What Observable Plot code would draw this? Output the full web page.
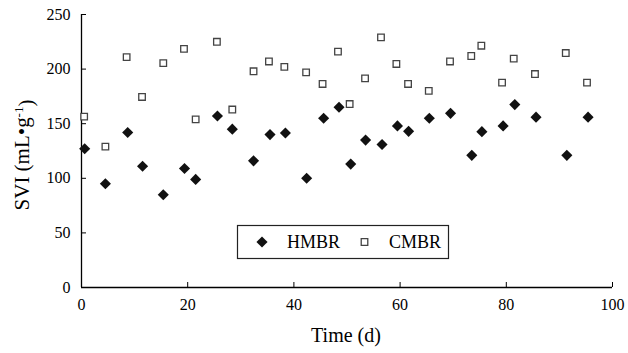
<!DOCTYPE html>
<html><head><meta charset="utf-8">
<script src="https://cdn.jsdelivr.net/npm/d3@7"></script>
<script src="https://cdn.jsdelivr.net/npm/@observablehq/plot@0.6"></script>
<style>body{margin:0;background:#fff;} svg{display:block;}</style>
</head><body><div id="chart"></div>
<script>
const hmbrDay = [0.6,4.5,8.7,11.5,15.4,19.4,21.5,25.6,28.4,32.4,35.5,38.4,42.4,45.6,48.5,50.7,53.5,56.6,59.5,61.6,65.5,69.5,73.5,75.4,79.4,81.6,85.6,91.4,95.4];
const hmbrSVI = [127,95,142,111,85,109,99,157,145,116,140,141.5,100,155,165,113,135,131,148,143,155,159.5,121,142.7,148,167.5,156,121,156];
const cmbrDay = [0.5,4.5,8.5,11.4,15.4,19.3,21.5,25.5,28.4,32.4,35.3,38.2,42.3,45.4,48.3,50.5,53.4,56.4,59.3,61.5,65.4,69.4,73.4,75.3,79.2,81.4,85.4,91.2,95.2];
const cmbrSVI = [156.5,129,211,174.5,205.5,218.5,154,225,163,198,207,202,197,186.4,216,168,191.5,229,204.7,186.4,180,207,212,221.4,187.6,209.6,195.5,214.7,187.6];
const xTicks = [0,20,40,60,80,100];
const yTicks = [0,50,100,150,200,250];
const seriesNames = ["HMBR","CMBR"];

const hmbr = hmbrDay.map((d,i)=>({day:d, svi:hmbrSVI[i]}));
const cmbr = cmbrDay.map((d,i)=>({day:d, svi:cmbrSVI[i]}));

// pick an installed Times-like font
const ctx = document.createElement("canvas").getContext("2d");
function w(f){ctx.font = "40px " + f; return ctx.measureText("Time (d) 0123456789 HMBR").width;}
const cands = ["Liberation Serif","Times New Roman","Tinos","Nimbus Roman","Nimbus Roman No9 L","FreeSerif","Noto Serif","DejaVu Serif"];
let chosen = "serif";
for (const c of cands) {
  if (w(`"${c}", monospace`) !== w("monospace") || w(`"${c}", sans-serif`) !== w("sans-serif")) { chosen = c; break; }
}
const font = `"${chosen}", serif`;

const chart = Plot.plot({
  width: 628, height: 353,
  marginLeft: 81, marginRight: 16, marginTop: 14, marginBottom: 66,
  style: {fontFamily: font, fontSize: "16px", color: "#000", background: "#fff"},
  x: {domain: [0,100]},
  y: {domain: [0,250]},
  marks: [
    Plot.axisX({ticks: xTicks, tickSize: -5, tickPadding: 16, label: null, tickFormat: d=>d}),
    Plot.axisY({ticks: yTicks, tickSize: -5, tickPadding: 16, label: null, tickFormat: d=>d}),
    Plot.ruleX([0], {stroke:"#000", strokeWidth:1.3}),
    Plot.ruleY([0], {stroke:"#000", strokeWidth:1.3}),
    Plot.dot(cmbr, {x:"day", y:"svi", symbol:"square", r:3.7, fill:"#fff", stroke:"#444", strokeWidth:1.3}),
    Plot.dot(hmbr, {x:"day", y:"svi", symbol:"diamond2", r:5, fill:"#111", stroke:"none"})
  ]
});
document.getElementById("chart").appendChild(chart);

const svg = d3.select(chart);
svg.selectAll("text").attr("font-family", font);
// axis titles
svg.append("text").attr("x", 346).attr("y", 342).attr("text-anchor","middle")
  .attr("font-family", font).attr("font-size", 20).text("Time (d)");
const yl = svg.append("text").attr("transform","translate(29,155) rotate(-90)")
  .attr("text-anchor","middle").attr("font-family", font).attr("font-size", 21);
yl.append("tspan").text("SVI (mL\u2022g");
yl.append("tspan").attr("dy","-0.45em").attr("font-size",13).text("-1");
yl.append("tspan").attr("dy","0.45em").text(")");

// legend
const lg = svg.append("g");
lg.append("rect").attr("x",237.5).attr("y",225.5).attr("width",211).attr("height",33)
  .attr("fill","#fff").attr("stroke","#222").attr("stroke-width",1.2);
lg.append("path").attr("d", d3.symbol(d3.symbolDiamond2, Math.PI*5*5)()).attr("transform","translate(262,242)").attr("fill","#111");
lg.append("text").attr("x",287).attr("y",248).attr("text-anchor","start").attr("font-family",font).attr("font-size",18).text(seriesNames[0]);
lg.append("path").attr("d", d3.symbol(d3.symbolSquare, Math.PI*3.7*3.7)()).attr("transform","translate(364.5,242)").attr("fill","#fff").attr("stroke","#444").attr("stroke-width",1.3);
lg.append("text").attr("x",389).attr("y",248).attr("text-anchor","start").attr("font-family",font).attr("font-size",18).text(seriesNames[1]);
</script></body></html>
